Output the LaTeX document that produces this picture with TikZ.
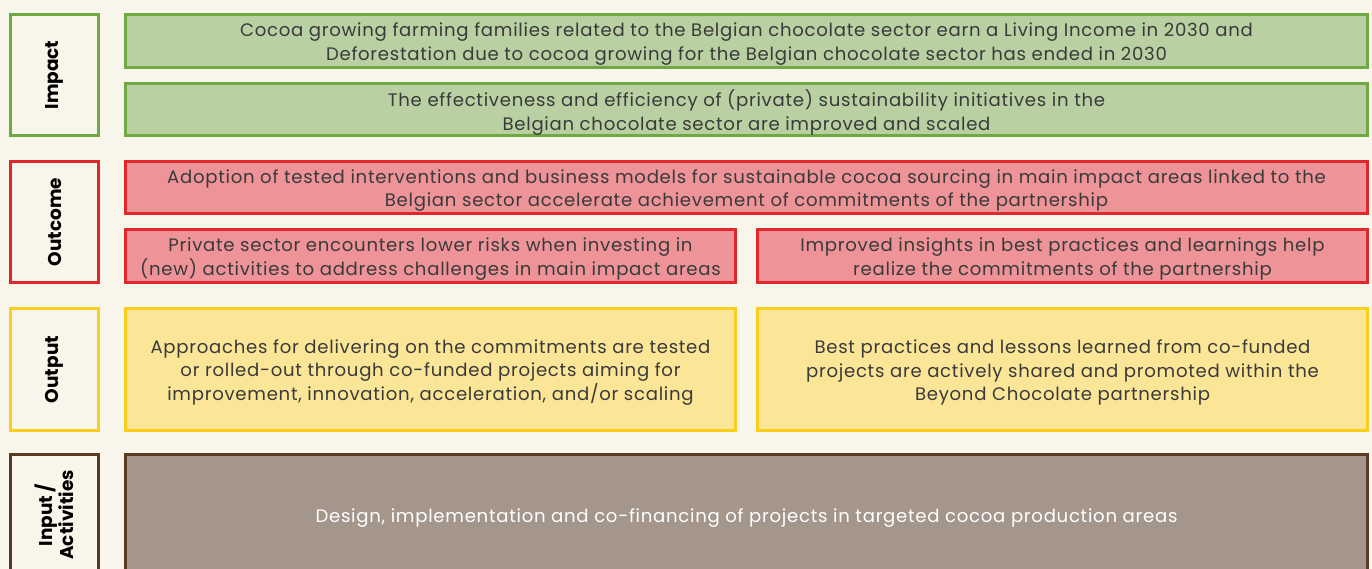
\documentclass[tikz,border=0pt]{standalone}
\usepackage{fontspec}
\setmainfont{Poppins}
\newfontfamily\boxfont[LetterSpace=4]{Poppins}
\definecolor{bg}{HTML}{F8F5EA}
\definecolor{gfill}{HTML}{B8D0A2}
\definecolor{gline}{HTML}{70A843}
\definecolor{rfill}{HTML}{EE9498}
\definecolor{rline}{HTML}{E0272B}
\definecolor{yfill}{HTML}{FBE597}
\definecolor{yline}{HTML}{FBCD1C}
\definecolor{bfill}{HTML}{A5968C}
\definecolor{bline}{HTML}{5A3A23}
\definecolor{txt}{HTML}{3A3A3A}
\tikzset{
  box/.style={rectangle, line width=3pt, inner sep=0pt, outer sep=0pt},
  boxtext/.style={align=center, text=txt, inner sep=0pt, yshift=-3pt,
    font=\boxfont\fontsize{18.1}{23.3}\selectfont},
  lbl/.style={rectangle, line width=3pt, inner sep=0pt, outer sep=0pt, fill=bg,
    minimum width=88pt, minimum height=121pt},
  lbltext/.style={rotate=90, align=center, font=\fontsize{18.5}{19}\selectfont\bfseries, text=black},
  green/.style={box, draw=gline, fill=gfill},
  red/.style={box, draw=rline, fill=rfill},
  yellow/.style={box, draw=yline, fill=yfill},
  brown/.style={box, draw=bline, fill=bfill},
}
\begin{document}
\begin{tikzpicture}[x=1pt,y=-1pt]
\useasboundingbox (0,0) rectangle (1372,569);
\fill[bg] (0,0) rectangle (1372,569);
% labels
\node[lbl, draw=gline] (limpact) at (54.5,75) {};
\node[lbltext] (timpact) at (limpact.center) {Impact};
\node[lbl, draw=rline] (loutcome) at (54.5,222) {};
\node[lbltext] (toutcome) at (loutcome.center) {Outcome};
\node[lbl, draw=yline, minimum height=122pt] (loutput) at (54.5,369.5) {};
\node[lbltext] (toutput) at (loutput.center) {Output};
\node[lbl, draw=bline] (linput) at (54.5,515) {};
\node[lbltext] (tinput) at (linput.center) {Input /\\Activities};
% impact
\node[green, minimum width=1242pt, minimum height=53pt] (imp1) at (746.5,41) {};
\node[boxtext] (imp1t) at (imp1.center)
  {Cocoa growing farming families related to the Belgian chocolate sector earn a Living Income in 2030 and\\Deforestation due to cocoa growing for the Belgian chocolate sector has ended in 2030};
\node[green, minimum width=1242pt, minimum height=52pt] (imp2) at (746.5,109.5) {};
\node[boxtext] (imp2t) at (imp2.center)
  {The effectiveness and efficiency of (private) sustainability initiatives in the\\Belgian chocolate sector are improved and scaled};
% outcome
\node[red, minimum width=1242pt, minimum height=52pt] (out1) at (746.5,187.5) {};
\node[boxtext] (out1t) at (out1.center)
  {Adoption of tested interventions and business models for sustainable cocoa sourcing in main impact areas linked to the\\Belgian sector accelerate achievement of commitments of the partnership};
\node[red, minimum width=610pt, minimum height=53pt] (out2) at (430.5,256) {};
\node[boxtext] (out2t) at (out2.center)
  {Private sector encounters lower risks when investing in\\(new) activities to address challenges in main impact areas};
\node[red, minimum width=610pt, minimum height=53pt] (out3) at (1062.5,256) {};
\node[boxtext] (out3t) at (out3.center)
  {Improved insights in best practices and learnings help\\realize the commitments of the partnership};
% output
\node[yellow, minimum width=610pt, minimum height=122pt] (op1) at (430.5,369.5) {};
\node[boxtext] (op1t) at (op1.center)
  {Approaches for delivering on the commitments are tested\\or rolled-out through co-funded projects aiming for\\improvement, innovation, acceleration, and/or scaling};
\node[yellow, minimum width=610pt, minimum height=122pt] (op2) at (1062.5,369.5) {};
\node[boxtext] (op2t) at (op2.center)
  {Best practices and lessons learned from co-funded\\projects are actively shared and promoted within the\\Beyond Chocolate partnership};
% input
\node[brown, minimum width=1242pt, minimum height=121pt] (inp) at (746.5,515) {};
\node[boxtext, text=white] (inpt) at (inp.center)
  {Design, implementation and co-financing of projects in targeted cocoa production areas};
\end{tikzpicture}
\end{document}
